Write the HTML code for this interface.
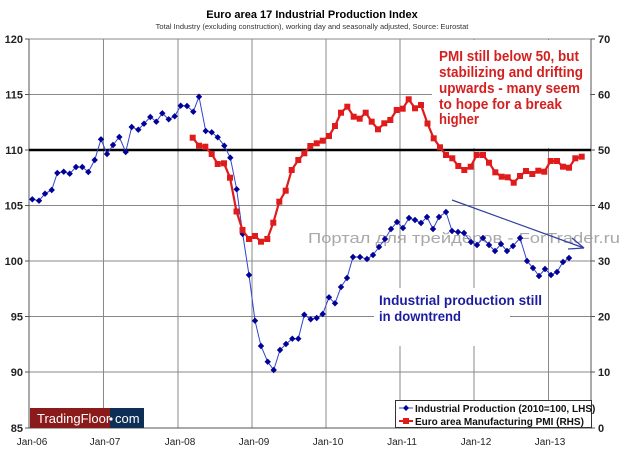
<!DOCTYPE html>
<html><head><meta charset="utf-8"><style>
html,body{margin:0;padding:0;background:#fff;}
svg{display:block;font-family:"Liberation Sans",sans-serif;}
</style></head><body>
<svg width="624" height="455" viewBox="0 0 624 455">
<defs>
<marker id="dia" markerUnits="userSpaceOnUse" markerWidth="8" markerHeight="8" refX="4" refY="4"><path d="M4 0.8L7.2 4L4 7.2L0.8 4Z" fill="#000099"/></marker>
<marker id="sq" markerUnits="userSpaceOnUse" markerWidth="8" markerHeight="8" refX="4" refY="4"><rect x="1" y="1" width="6" height="6" fill="#e01b1b"/></marker>
</defs>
<text x="312" y="18" text-anchor="middle" font-size="11" font-weight="bold">Euro area 17 Industrial Production Index</text>
<text x="312" y="29" text-anchor="middle" font-size="7.5" fill="#333">Total Industry (excluding construction), working day and seasonally adjusted, Source: Eurostat</text>
<g stroke="#888" stroke-width="1">
<line x1="29" y1="39" x2="591" y2="39"/><line x1="29" y1="94.5" x2="591" y2="94.5"/><line x1="29" y1="205.5" x2="591" y2="205.5"/><line x1="29" y1="261" x2="591" y2="261"/><line x1="29" y1="316.5" x2="591" y2="316.5"/><line x1="29" y1="372" x2="591" y2="372"/>
<line x1="103.5" y1="39" x2="103.5" y2="428"/><line x1="178" y1="39" x2="178" y2="428"/><line x1="252" y1="39" x2="252" y2="428"/><line x1="326" y1="39" x2="326" y2="428"/><line x1="400" y1="39" x2="400" y2="428"/><line x1="474" y1="39" x2="474" y2="428"/><line x1="548.5" y1="39" x2="548.5" y2="428"/>
</g>
<g stroke="#555" stroke-width="1">
<line x1="29" y1="39" x2="29" y2="428"/><line x1="591" y1="39" x2="591" y2="428"/><line x1="29" y1="428" x2="591" y2="428"/>
<line x1="25" y1="39" x2="29" y2="39"/><line x1="25" y1="94.5" x2="29" y2="94.5"/><line x1="25" y1="150" x2="29" y2="150"/><line x1="25" y1="205.5" x2="29" y2="205.5"/><line x1="25" y1="261" x2="29" y2="261"/><line x1="25" y1="316.5" x2="29" y2="316.5"/><line x1="25" y1="372" x2="29" y2="372"/><line x1="25" y1="428" x2="29" y2="428"/>
<line x1="591" y1="39" x2="595" y2="39"/><line x1="591" y1="94.5" x2="595" y2="94.5"/><line x1="591" y1="150" x2="595" y2="150"/><line x1="591" y1="205.5" x2="595" y2="205.5"/><line x1="591" y1="261" x2="595" y2="261"/><line x1="591" y1="316.5" x2="595" y2="316.5"/><line x1="591" y1="372" x2="595" y2="372"/><line x1="591" y1="428" x2="595" y2="428"/>
</g>
<rect x="432" y="40" width="158" height="108" fill="#fff"/>
<rect x="374" y="288" width="136" height="58" fill="#fff"/>
<line x1="29" y1="150" x2="591" y2="150" stroke="#000" stroke-width="2.5"/>
<g font-size="11" font-weight="bold" fill="#222" text-anchor="end">
<text x="23" y="43">120</text><text x="23" y="98.5">115</text><text x="23" y="154">110</text><text x="23" y="209.5">105</text><text x="23" y="265">100</text><text x="23" y="320.5">95</text><text x="23" y="376">90</text><text x="23" y="432">85</text>
</g>
<g font-size="11" font-weight="bold" fill="#222">
<text x="598" y="43">70</text><text x="598" y="98.5">60</text><text x="598" y="154">50</text><text x="598" y="209.5">40</text><text x="598" y="265">30</text><text x="598" y="320.5">20</text><text x="598" y="376">10</text><text x="598" y="432">0</text>
</g>
<g font-size="10" fill="#222" text-anchor="middle">
<text x="32" y="445">Jan-06</text><text x="105" y="445">Jan-07</text><text x="180" y="445">Jan-08</text><text x="254" y="445">Jan-09</text><text x="328" y="445">Jan-10</text><text x="402" y="445">Jan-11</text><text x="476" y="445">Jan-12</text><text x="550" y="445">Jan-13</text>
</g>
<text x="308" y="243" font-size="15" fill="#999" fill-opacity="0.85" textLength="312" lengthAdjust="spacingAndGlyphs">Портал для трейдеров - ForTrader.ru</text>
<polyline fill="none" stroke="#3344cc" stroke-width="1" marker-start="url(#dia)" marker-mid="url(#dia)" marker-end="url(#dia)" points="32.3,199.3 39,200.7 45,193.7 51.7,190 57.3,173 63.7,171.7 69.7,173.7 76,167 82.3,167 88.3,172 94.7,160 101,139.3 107,154 113,145 119.3,137 125.7,152 131.7,127 138.3,129.7 144,123.7 150.3,117 156.3,121.7 162.3,113.3 168.7,119.3 174.7,116.3 180.7,105.7 187,106 193.3,111.7 199,96.7 205.7,131 211.7,132.3 217.7,137.3 224.3,145.7 230.3,157.7 236.7,189.3 242.7,234 249,275 255,320.7 261,346 267.7,361.7 273.7,370 280,350 286,344 292.3,338.7 298.3,338.7 304.3,314.7 310.7,319.3 316.7,318 322.7,314 329,297.3 335,303.3 341,287 347,278 353,257 360,257 367,259 373,255 379,247 385,239 391,229 397,222 403,228 409,218 415,220 421,223 427,217 433,229 439,217 446,212 452,231 458,232 464,233 471,242 477,245 483,238 489,245 495,251 501,244 507,251 513,246 520,238 527,261 533,268 539,276 545,269 551,275 557,272 563,262 569,258"/>
<polyline fill="none" stroke="#e01b1b" stroke-width="2.2" marker-start="url(#sq)" marker-mid="url(#sq)" marker-end="url(#sq)" points="192.7,137.7 199,145.7 205.3,146.7 211.7,154 217.7,164 224,163.3 230,177.7 236.5,211.5 242.5,230 249,239 255,236 261,241.7 267.3,239 273.3,222.7 279.3,201.7 285.7,190.7 291.7,170 298.3,160 304.3,153.3 310.3,146 316.7,143.3 322.7,140.7 329,136 335,126 341,112.7 347.3,106.7 353.7,116.7 359.7,118.7 365.7,112.7 371.7,121.7 378,129.3 384.3,123.3 390.3,120 396.7,110 402.7,108.7 408.7,99.3 415,108.3 421,105 427.5,123.5 433.7,138.3 440,147.3 446,155 452.3,158.3 458.3,166 464.3,170 470.7,166.7 476.7,155 483,155 489,162.7 495.3,172.3 501.7,176.7 507.7,177.3 513.7,182.7 520,176 526,171 532.3,174 538.3,170.7 544.3,171.7 550.7,161 557,161 563,166.7 569,167.7 575.3,158.3 581.7,156.7"/>
<g stroke="#3340a0" stroke-width="1.2" fill="none">
<line x1="452" y1="200" x2="584" y2="248"/>
<line x1="584" y1="248" x2="568" y2="249"/>
<line x1="584" y1="248" x2="572" y2="238"/>
</g>
<g font-size="15" font-weight="bold" fill="#d42020" lengthAdjust="spacingAndGlyphs">
<text x="439" y="61" textLength="140" lengthAdjust="spacingAndGlyphs">PMI still below 50, but</text>
<text x="439" y="77" textLength="144" lengthAdjust="spacingAndGlyphs">stabilizing and drifting</text>
<text x="439" y="93" textLength="141" lengthAdjust="spacingAndGlyphs">upwards - many seem</text>
<text x="439" y="109" textLength="123" lengthAdjust="spacingAndGlyphs">to hope for a break</text>
<text x="439" y="124" textLength="40" lengthAdjust="spacingAndGlyphs">higher</text>
</g>
<g font-size="14" font-weight="bold" fill="#1c1ca0">
<text x="379" y="305" textLength="163" lengthAdjust="spacingAndGlyphs">Industrial production still</text>
<text x="379" y="321" textLength="82" lengthAdjust="spacingAndGlyphs">in downtrend</text>
</g>
<rect x="30" y="408" width="80" height="20" fill="#8b1a1a"/>
<rect x="110" y="408" width="34" height="20" fill="#0d2e55"/>
<circle cx="111" cy="419" r="1.6" fill="#fff"/>
<text x="37" y="423" font-size="13" fill="#fff">TradingFloor</text>
<text x="115" y="423" font-size="13" fill="#fff">com</text>
<rect x="395.5" y="400.5" width="196" height="27" fill="#fff" stroke="#333" stroke-width="1"/>
<line x1="399" y1="408" x2="413" y2="408" stroke="#3344cc"/>
<path d="M406 405L409 408L406 411L403 408Z" fill="#000099"/>
<line x1="399" y1="421" x2="413" y2="421" stroke="#e01b1b" stroke-width="2"/>
<rect x="403" y="418" width="6" height="6" fill="#e01b1b"/>
<text x="415" y="412" font-size="10" font-weight="bold" fill="#111">Industrial Production (2010=100, LHS)</text>
<text x="415" y="425" font-size="10" font-weight="bold" fill="#111">Euro area Manufacturing PMI (RHS)</text>
</svg>
</body></html>
